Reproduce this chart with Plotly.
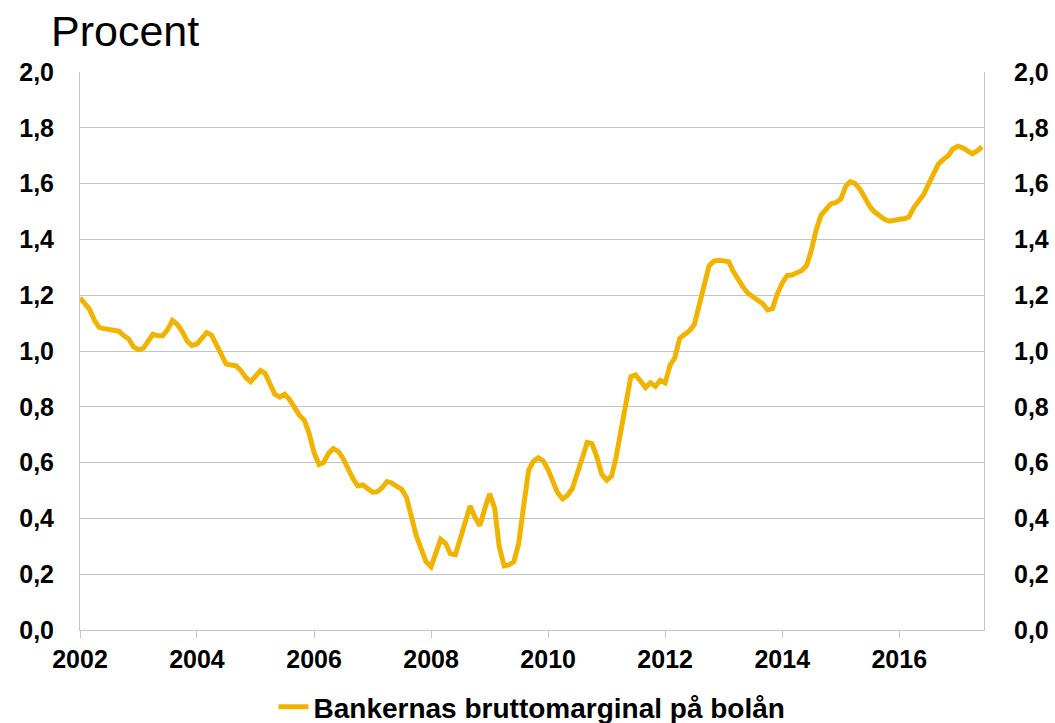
import pandas as pd
import plotly.graph_objects as go

# Monthly values, Jan 2002 - Jun 2017 (percent)
margin_values = [
    1.19, 1.17, 1.15, 1.11, 1.085, 1.08, 1.077, 1.074, 1.071, 1.055, 1.043, 1.015,
    1.005, 1.01, 1.035, 1.06, 1.055, 1.055, 1.076, 1.11, 1.095, 1.07, 1.035, 1.02,
    1.025, 1.045, 1.066, 1.057, 1.025, 0.99, 0.953, 0.95, 0.947, 0.93, 0.905, 0.89,
    0.91, 0.93, 0.92, 0.882, 0.845, 0.835, 0.845, 0.826, 0.795, 0.77, 0.752, 0.705,
    0.635, 0.593, 0.60, 0.633, 0.65, 0.64, 0.615, 0.575, 0.542, 0.516, 0.52, 0.507,
    0.494, 0.496, 0.51, 0.532, 0.527, 0.515, 0.505, 0.475, 0.395, 0.337, 0.29, 0.244,
    0.227, 0.28, 0.325, 0.31, 0.273, 0.27, 0.328, 0.39, 0.445, 0.404, 0.374, 0.435,
    0.488, 0.437, 0.30, 0.23, 0.233, 0.245, 0.31, 0.445, 0.573, 0.605, 0.617, 0.606,
    0.574, 0.53, 0.492, 0.47, 0.482, 0.508, 0.556, 0.615, 0.672, 0.668, 0.62, 0.558,
    0.537, 0.552, 0.62, 0.712, 0.824, 0.908, 0.914, 0.894, 0.869, 0.886, 0.873, 0.895,
    0.886, 0.95, 0.975, 1.046, 1.06, 1.073, 1.095, 1.17, 1.25, 1.305, 1.322, 1.325,
    1.323, 1.32, 1.286, 1.256, 1.229, 1.207, 1.192, 1.182, 1.17, 1.147, 1.152, 1.205,
    1.244, 1.271, 1.272, 1.282, 1.288, 1.305, 1.36, 1.435, 1.488, 1.508, 1.528, 1.532,
    1.544, 1.59, 1.607, 1.60, 1.58, 1.549, 1.518, 1.498, 1.485, 1.472, 1.465, 1.47,
    1.472, 1.474, 1.48, 1.514, 1.541, 1.561, 1.597, 1.638, 1.67, 1.686, 1.70, 1.724,
    1.734, 1.728, 1.717, 1.707, 1.717, 1.732,
]
start_month = "2002-01-01"
dates = pd.date_range(start_month, periods=len(margin_values), freq="MS")

tick_years = [2002, 2004, 2006, 2008, 2010, 2012, 2014, 2016]
tick_dates = [f"{y}-01-01" for y in tick_years]
tick_labels = [str(y) for y in tick_years]
y_ticks = [0.0, 0.2, 0.4, 0.6, 0.8, 1.0, 1.2, 1.4, 1.6, 1.8, 2.0]

series_name = "Bankernas bruttomarginal på bolån"
unit_label = "Procent"

LINE_COLOR = "#F0B400"
GRID = "#C4C4C4"
FONT = "Liberation Sans, Arial, sans-serif"

fig = go.Figure()
fig.add_trace(go.Scatter(
    x=dates, y=margin_values, mode="lines", name=series_name,
    line=dict(color=LINE_COLOR, width=5), yaxis="y",
))
fig.add_trace(go.Scatter(
    x=dates, y=margin_values, mode="lines", showlegend=False,
    line=dict(color="rgba(0,0,0,0)", width=0), yaxis="y2", hoverinfo="skip",
))

tickfont = dict(family=FONT, size=25, color="black", weight="bold")

fig.update_layout(
    width=1055, height=723,
    margin=dict(l=80, r=71, t=72, b=93, autoexpand=False),
    paper_bgcolor="white", plot_bgcolor="white",
    separators=", ",
    showlegend=True,
    legend=dict(orientation="h", x=0.5, xanchor="center", y=-0.138, yanchor="middle",
                font=dict(family=FONT, size=28, color="black", weight="bold"),
                itemwidth=30),
    xaxis=dict(
        type="date", range=["2002-01-01", "2017-06-13"],
        tickvals=tick_dates, ticktext=tick_labels,
        tickfont=tickfont, showgrid=False, zeroline=False,
        showline=True, linecolor=GRID, linewidth=1,
        ticks="outside", ticklen=7, tickcolor=GRID,
        automargin=False,
    ),
    yaxis=dict(
        range=[0, 2.0], tickvals=y_ticks, tickformat=".1f",
        tickfont=tickfont, showgrid=True, gridcolor=GRID, gridwidth=1,
        zeroline=False, showline=True, linecolor=GRID, linewidth=1,
        ticks="", ticklabelstandoff=20, automargin=False,
    ),
    yaxis2=dict(
        range=[0, 2.0], tickvals=y_ticks, tickformat=".1f", overlaying="y", side="right",
        tickfont=tickfont, showgrid=False, zeroline=False,
        showline=True, linecolor=GRID, linewidth=1,
        ticks="", ticklabelstandoff=24, automargin=False,
    ),
    annotations=[dict(
        text=unit_label, xref="paper", yref="paper", x=-0.0345, y=1.073,
        xanchor="left", yanchor="middle", showarrow=False,
        font=dict(family=FONT, size=43, color="black"),
    )],
)

fig.write_html("out.html", config={"displayModeBar": False},
               post_script="document.body.style.margin='0';")
